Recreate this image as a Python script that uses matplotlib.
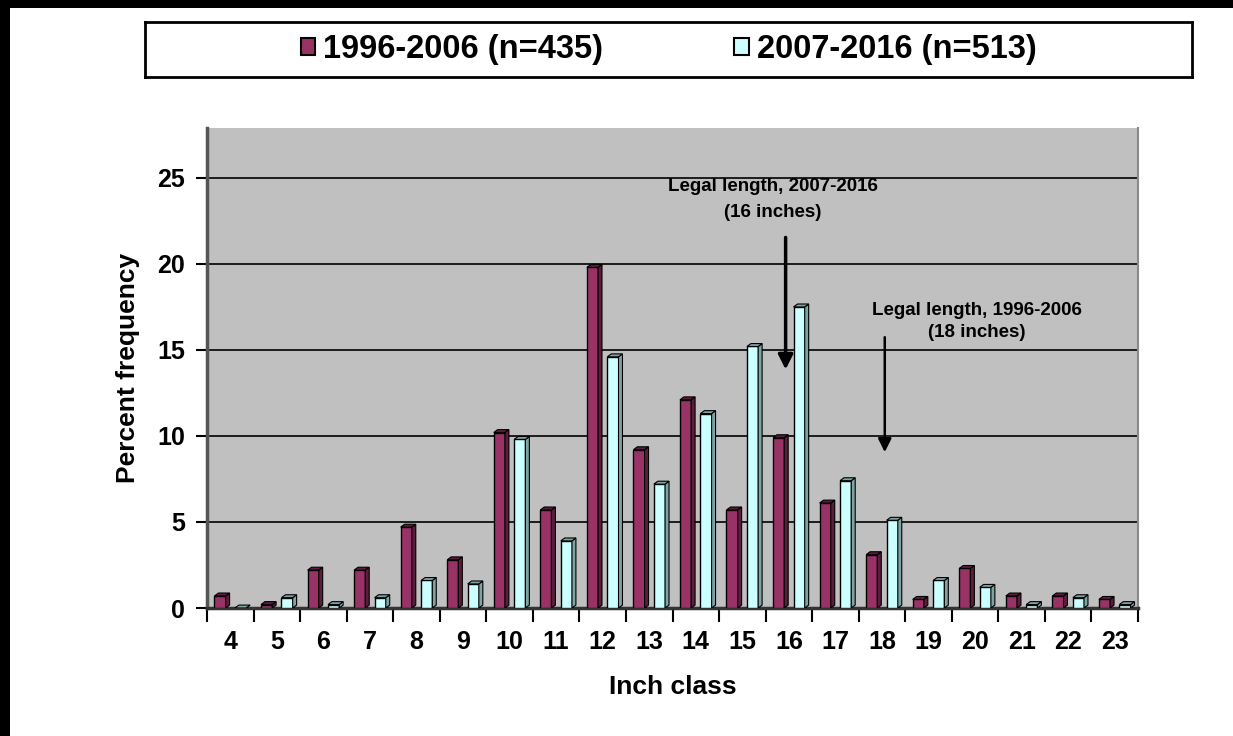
import numpy as np
import matplotlib
matplotlib.use("Agg")
import matplotlib.pyplot as plt
from matplotlib.patches import Rectangle

plt.rcParams["font.family"] = ["Liberation Sans", "DejaVu Sans"]
plt.rcParams["font.weight"] = "bold"
plt.rcParams["savefig.transparent"] = False

inch_class = [4, 5, 6, 7, 8, 9, 10, 11, 12, 13, 14, 15, 16, 17, 18, 19, 20, 21, 22, 23]
early = [0.7, 0.2, 2.2, 2.2, 4.7, 2.8, 10.2, 5.7, 19.8, 9.2, 12.1, 5.7, 9.9, 6.1, 3.1, 0.5, 2.3, 0.7, 0.7, 0.5]
late = [0.0, 0.6, 0.2, 0.6, 1.6, 1.4, 9.8, 3.9, 14.6, 7.2, 11.3, 15.2, 17.5, 7.4, 5.1, 1.6, 1.2, 0.2, 0.6, 0.2]
early_label = "1996-2006 (n=435)"
late_label = "2007-2016 (n=513)"

purple, purple_side = "#993366", "#5a1e3c"
cyan, cyan_side = "#ccffff", "#7fa3a3"

fig = plt.figure(figsize=(12.33, 7.36), dpi=100, facecolor="white")

# white page with thick black frame on left and top
bg = fig.add_axes([0, 0, 1, 1], zorder=-10)
bg.set_facecolor("white")
bg.set_xlim(0, 1)
bg.set_ylim(0, 1)
bg.set_xticks([])
bg.set_yticks([])
for s in bg.spines.values():
    s.set_visible(False)
bg.add_patch(Rectangle((0, 0), 10 / 1233, 1, facecolor="black", edgecolor="none"))
bg.add_patch(Rectangle((0, 1 - 8 / 736), 1, 8 / 736, facecolor="black", edgecolor="none"))

ax = fig.add_axes([207 / 1233, 1 - 608 / 736, 931 / 1233, 480 / 736])
ax.set_facecolor("#c0c0c0")

x = np.array(inch_class, dtype=float)
w = 0.24
dx, dy = 0.085, 0.17


def bars3d(xc, h, face, side):
    ax.bar(xc, h, width=w, color=face, edgecolor="black", linewidth=1.0, zorder=3)
    for xi, hi in zip(xc, h):
        r = xi + w / 2
        l = xi - w / 2
        ax.fill([r, r + dx, r + dx, r], [0, dy, hi + dy, hi],
                facecolor=side, edgecolor="black", linewidth=0.8, zorder=3)
        ax.fill([l, r, r + dx, l + dx], [hi, hi, hi + dy, hi + dy],
                facecolor=side, edgecolor="black", linewidth=0.8, zorder=3)


bars3d(x - 0.22, early, purple, purple_side)
bars3d(x + 0.22, late, cyan, cyan_side)

ax.set_xlim(3.5, 23.5)
ax.set_ylim(0, 27.9)
ax.set_yticks([0, 5, 10, 15, 20, 25])
ax.yaxis.grid(True, color="black", linewidth=1.2, zorder=1)
ax.set_axisbelow(True)
ax.set_xticks(inch_class)
ax.set_xticks(np.arange(3.5, 24, 1), minor=True)
ax.tick_params(axis="x", which="major", length=0, pad=16, labelsize=18)
ax.tick_params(axis="x", which="minor", length=10, width=1.5, direction="out")
ax.tick_params(axis="y", length=8, width=1.5, pad=8, labelsize=18)

ax.spines["top"].set_visible(False)
ax.spines["right"].set_color("#8a8a8a")
ax.spines["right"].set_linewidth(1.5)
ax.spines["left"].set_color("#555555")
ax.spines["left"].set_linewidth(2.5)
ax.spines["bottom"].set_color("#333333")
ax.spines["bottom"].set_linewidth(2.5)

ax.set_xlabel("Inch class", fontsize=19, fontweight="bold", labelpad=15)
ax.set_ylabel("Percent frequency", fontsize=19, fontweight="bold", labelpad=12)

# legal length annotations
ax.text(15.65, 24.5, "Legal length, 2007-2016", ha="center", va="center", fontsize=13.5, fontweight="bold")
ax.text(15.65, 23.0, "(16 inches)", ha="center", va="center", fontsize=13.5, fontweight="bold")
ax.annotate("", xy=(15.93, 13.7), xytext=(15.93, 21.7),
            arrowprops=dict(arrowstyle="-|>", color="black", lw=2.5, mutation_scale=22), zorder=5)
ax.text(20.04, 17.3, "Legal length, 1996-2006", ha="center", va="center", fontsize=13.5, fontweight="bold")
ax.text(20.04, 16.0, "(18 inches)", ha="center", va="center", fontsize=13.5, fontweight="bold")
ax.annotate("", xy=(18.06, 8.9), xytext=(18.06, 15.9),
            arrowprops=dict(arrowstyle="-|>", color="black", lw=1.8, mutation_scale=20), zorder=5)

# legend in a framed box across the top
leg_ax = fig.add_axes([145 / 1233, 1 - 77 / 736, 1047 / 1233, 55 / 736])
leg_ax.set_facecolor("white")
leg_ax.set_xticks([])
leg_ax.set_yticks([])
for s in leg_ax.spines.values():
    s.set_linewidth(2)
leg_handles = [Rectangle((0, 0), 1, 1, facecolor=purple, edgecolor="black", linewidth=1.5),
               Rectangle((0, 0), 1, 1, facecolor=cyan, edgecolor="black", linewidth=1.5)]
leg_ax.legend(leg_handles, [early_label, late_label], loc="center", ncol=2, frameon=False,
              prop={"size": 23.5, "weight": "bold"}, handlelength=0.45, handleheight=0.45,
              handletextpad=0.25, columnspacing=4.0)

fig.savefig("out.png", dpi=100, facecolor="white", transparent=False)
